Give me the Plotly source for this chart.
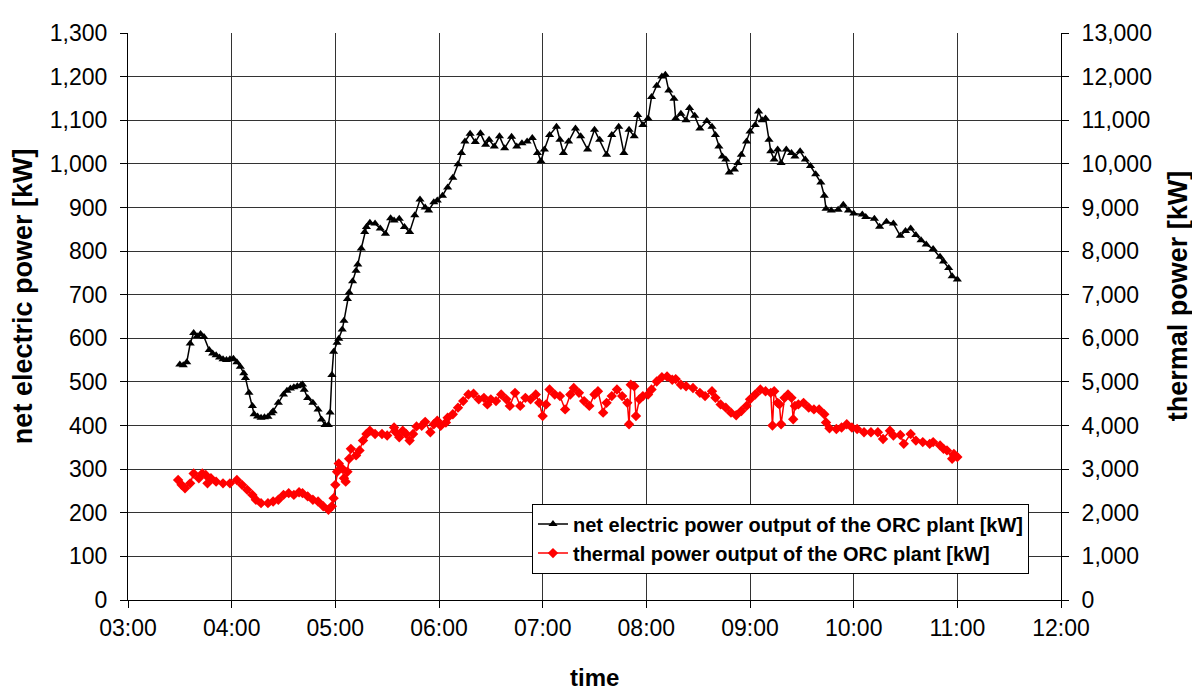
import plotly.graph_objects as go

# ---- data ----
elec_time = ["03:30","03:32","03:34","03:36","03:38","03:40","03:42","03:44","03:47","03:49","03:51","03:53","03:55","03:57","03:59",
             "04:01","04:03","04:05","04:07","04:08","04:10","04:12","04:13","04:15","04:17","04:19","04:21","04:23","04:24","04:27",
             "04:30","04:32","04:34","04:36","04:38","04:40","04:41","04:42","04:44","04:47","04:50","04:52","04:54","04:56","04:57",
             "04:58","04:59","05:01","05:02","05:04","05:05","05:07","05:08","05:10","05:12","05:13","05:15","05:17","05:18","05:20",
             "05:23","05:26","05:29","05:32","05:34","05:37","05:40","05:43","05:46","05:49","05:52","05:54","05:57","05:59","06:02",
             "06:05","06:08","06:11","06:13","06:15","06:18","06:21","06:24","06:27","06:29","06:32","06:35","06:38","06:42","06:45",
             "06:48","06:51","06:54","06:57","06:59","07:01","07:04","07:08","07:10","07:12","07:15","07:19","07:22","07:26","07:30",
             "07:33","07:37","07:40","07:44","07:47","07:50","07:53","07:55","07:58","08:01","08:03","08:06","08:09","08:11","08:13",
             "08:16","08:17","08:20","08:23","08:25","08:28","08:31","08:35","08:38","08:40","08:42","08:44","08:46","08:48","08:51",
             "08:53","08:55","08:58","09:00","09:03","09:05","09:07","09:09","09:11","09:12","09:14","09:16","09:18","09:21","09:24",
             "09:26","09:29","09:32","09:35","09:38","09:41","09:43","09:44","09:47","09:51","09:54","09:57","10:00","10:05","10:07",
             "10:12","10:15","10:19","10:23","10:27","10:30","10:33","10:36","10:39","10:42","10:46","10:50","10:52","10:55","10:57","11:00"]
elec_kw = [540,538,545,588,612,605,610,603,573,565,561,556,552,550,552,
           553,545,535,520,509,475,445,426,421,418,419,420,428,433,452,
           471,480,485,488,490,492,494,482,463,452,437,414,401,401,430,
           516,569,590,599,620,640,690,705,731,755,769,806,844,855,865,
           863,852,840,875,870,874,855,844,882,918,900,893,912,916,927,
           946,968,999,1025,1051,1069,1050,1070,1044,1055,1040,1063,1036,1062,1040,
           1047,1051,1059,1025,1006,1033,1066,1085,1055,1025,1051,1081,1063,1033,1078,
           1055,1021,1066,1085,1025,1078,1063,1112,1089,1104,1153,1179,1200,1204,1168,
           1149,1104,1115,1100,1128,1110,1081,1098,1085,1066,1040,1017,1010,980,987,
           1002,1021,1051,1074,1089,1120,1100,1104,1055,1029,1010,1033,1002,1033,1025,
           1017,1029,1010,995,976,957,927,897,893,895,906,893,886,884,878,
           874,856,867,863,835,846,852,837,825,815,805,787,776,761,742,735]

therm_time = ["03:29","03:31","03:33","03:36","03:38","03:41","03:43","03:45","03:46","03:48","03:51","03:55","03:59",
              "04:03","04:06","04:09","04:12","04:14","04:17","04:21","04:24","04:27","04:30","04:33","04:36","04:39","04:41",
              "04:44","04:47","04:50","04:53","04:56","04:58","04:59","05:00","05:01","05:02","05:04","05:05","05:06","05:07",
              "05:08","05:09","05:12","05:14","05:16","05:18","05:20","05:23","05:27","05:30","05:34","05:35","05:37","05:39",
              "05:41","05:43","05:45","05:47","05:50","05:52","05:55","05:57","05:59","06:01","06:04","06:05","06:08","06:11",
              "06:14","06:17","06:20","06:23","06:26","06:28","06:30","06:33","06:36","06:39","06:41","06:44","06:47","06:50",
              "06:53","06:56","06:58","07:00","07:02","07:04","07:07","07:10","07:13","07:16","07:18","07:21","07:24","07:27",
              "07:30","07:32","07:35","07:37","07:40","07:43","07:46","07:49","07:50","07:51","07:53","07:54","07:56","07:58",
              "08:01","08:03","08:06","08:09","08:12","08:15","08:17","08:20","08:23","08:27","08:31","08:34","08:38","08:40",
              "08:43","08:46","08:49","08:52","08:55","08:58","09:00","09:03","09:06","09:09","09:12","09:13","09:14","09:16",
              "09:17","09:18","09:20","09:22","09:24","09:25","09:26","09:28","09:31","09:34","09:37","09:40","09:43","09:44",
              "09:46","09:50","09:53","09:56","09:59","10:02","10:06","10:10","10:14","10:17","10:21","10:23","10:27","10:29",
              "10:33","10:36","10:40","10:44","10:46","10:50","10:52","10:54","10:57","10:58","11:00"]
therm_kw = [2750,2640,2560,2675,2900,2790,2900,2865,2675,2790,2713,2675,2675,
            2750,2640,2525,2410,2300,2220,2220,2260,2300,2410,2450,2410,2470,2450,
            2375,2300,2260,2150,2070,2150,2335,2640,2940,3130,3015,2790,2713,2940,
            3240,3465,3315,3430,3655,3805,3880,3805,3805,3770,3955,3845,3730,3880,
            3805,3655,3805,3980,3995,4085,3845,4030,4110,3995,4070,4180,4260,4410,
            4560,4710,4730,4600,4635,4485,4600,4560,4710,4600,4450,4750,4450,4635,
            4600,4710,4520,4220,4485,4825,4710,4675,4370,4710,4860,4750,4560,4450,
            4710,4785,4295,4520,4675,4825,4675,4520,4030,4935,4900,4220,4600,4675,
            4710,4825,5010,5110,5125,5050,5065,4935,4900,4860,4750,4675,4785,4635,
            4485,4410,4295,4235,4335,4450,4600,4710,4825,4785,4750,4000,4785,4520,
            4485,4030,4635,4710,4635,4145,4450,4485,4520,4410,4370,4370,4260,4070,
            3935,3920,3955,4030,3955,3920,3845,3845,3845,3690,3880,3770,3785,3580,
            3805,3655,3620,3580,3620,3545,3465,3430,3240,3350,3280]

x_ticks = ["03:00","04:00","05:00","06:00","07:00","08:00","09:00","10:00","11:00","12:00"]
DAY = "2000-01-01 "

def to_dt(lst):
    return [DAY + t for t in lst]

font_family = "Liberation Sans, Arial, sans-serif"
TICK = 23

fig = go.Figure()
fig.add_trace(go.Scatter(
    x=to_dt(elec_time), y=elec_kw, name="net electric power output of the ORC plant [kW]",
    mode="lines+markers", line=dict(color="black", width=1.5),
    marker=dict(symbol="triangle-up", size=8, color="black"), yaxis="y"))
fig.add_trace(go.Scatter(
    x=to_dt(therm_time), y=therm_kw, name="thermal power output of the ORC plant [kW]",
    mode="lines+markers", line=dict(color="red", width=1.5),
    marker=dict(symbol="diamond", size=8, color="red"), yaxis="y2"))

fig.update_layout(
    width=1192, height=683,
    margin=dict(l=120, r=139, t=17, b=91),
    paper_bgcolor="white", plot_bgcolor="white",
    font=dict(family=font_family, size=TICK, color="black"),
    showlegend=True,
    legend=dict(x=0.433, y=0.17, xanchor="left", yanchor="top",
                bgcolor="white", bordercolor="black", borderwidth=1,
                font=dict(size=20, color="black", family=font_family, weight="bold"),
                tracegroupgap=0, itemwidth=30),
    xaxis=dict(
        type="date",
        range=[DAY + x_ticks[0], DAY + x_ticks[-1]],
        tickvals=to_dt(x_ticks), ticktext=x_ticks,
        showgrid=True, gridcolor="#333333", gridwidth=1,
        showline=True, linecolor="black", linewidth=1, mirror=False,
        ticks="outside", ticklen=7, tickcolor="black",
        tickfont=dict(size=TICK),
        zeroline=False),
    yaxis=dict(
        range=[0, 1300], dtick=100, tickformat=",",
        showgrid=True, gridcolor="#333333", gridwidth=1,
        showline=True, linecolor="black", linewidth=1,
        ticks="outside", ticklen=7, tickcolor="black",
        tickfont=dict(size=TICK), ticklabelstandoff=8,
        zeroline=False),
    yaxis2=dict(
        range=[0, 13000], dtick=1000, tickformat=",",
        overlaying="y", side="right", showgrid=False,
        showline=True, linecolor="black", linewidth=1,
        ticks="outside", ticklen=7, tickcolor="black",
        tickfont=dict(size=TICK), ticklabelstandoff=8,
        zeroline=False),
    annotations=[
        dict(text="<b>net electric power [kW]</b>", xref="paper", yref="paper",
             x=-0.1125, y=0.536, xanchor="center", yanchor="middle", textangle=-90,
             showarrow=False, font=dict(size=27, family=font_family, color="black")),
        dict(text="<b>thermal power [kW]</b>", xref="paper", yref="paper",
             x=1.1255, y=0.536, xanchor="center", yanchor="middle", textangle=-90,
             showarrow=False, font=dict(size=27, family=font_family, color="black")),
        dict(text="<b>time</b>", xref="paper", yref="paper",
             x=0.5, y=-0.1374, xanchor="center", yanchor="middle",
             showarrow=False, font=dict(size=24, family=font_family, color="black")),
    ],
)

fig.write_html("out.html")
